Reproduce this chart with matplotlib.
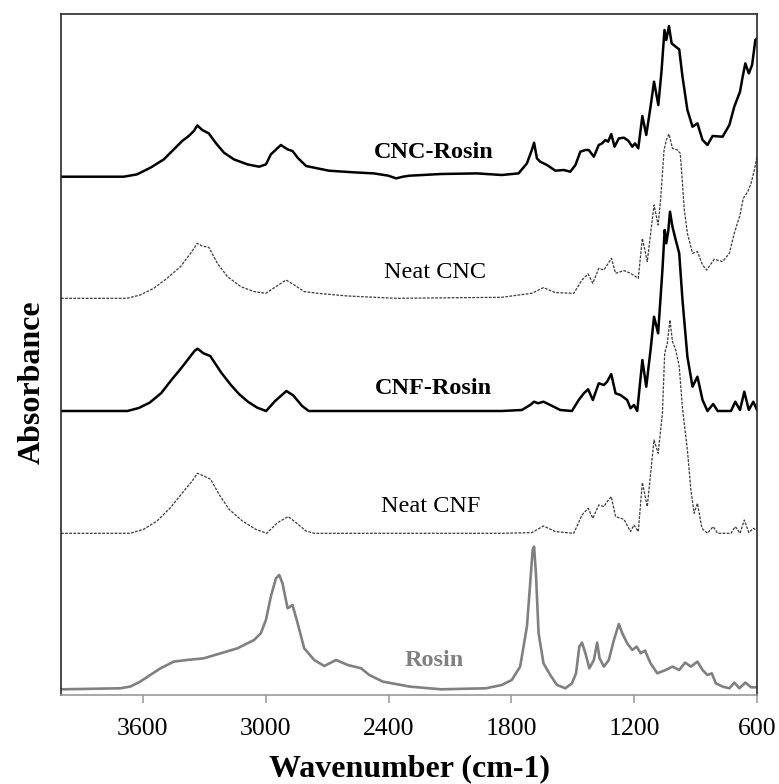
import matplotlib
matplotlib.use("Agg")
import matplotlib.pyplot as plt
import numpy as np

plt.rcParams['font.family'] = ['Liberation Serif', 'DejaVu Serif']

# ---- data (wavenumber cm-1, absorbance a.u., baseline-subtracted) ----
cnc_rosin_wn = [4000, 3694, 3629, 3563, 3498, 3449, 3408, 3376, 3351, 3334, 3310, 3278, 3245, 3204, 3155, 3089,
                3032, 2999, 2975, 2926, 2893, 2869, 2844, 2803, 2746, 2691, 2580, 2472, 2400, 2363, 2330, 2297,
                2143, 1968, 1847, 1765, 1724, 1700, 1689, 1675, 1659, 1626, 1585, 1544, 1512, 1487, 1463, 1438,
                1422, 1397, 1373, 1357, 1340, 1327, 1312, 1296, 1275, 1250, 1229, 1209, 1196, 1180, 1160, 1141,
                1120, 1103, 1082, 1066, 1052, 1043, 1030, 1017, 997, 980, 964, 940, 915, 891, 866, 842, 817, 768,
                735, 711, 683, 670, 657, 640, 624, 608, 600]
cnc_rosin_abs = [0, 0, 2.3, 9, 17.3, 27.3, 35.7, 40.7, 45.7, 51.3, 46.7, 43.3, 34, 24, 17.3, 12.3,
                 10, 12.3, 22.3, 31.7, 27.3, 25.7, 19, 10.7, 8.3, 6, 4.5, 3.3, 1, -1.7, 0, 1,
                 2.7, 3.3, 1.7, 3.3, 13.3, 26.7, 34, 18.3, 15, 11.7, 6, 6.7, 5, 11.7, 25, 26.7,
                 26.7, 20, 31.7, 33.3, 36.7, 35, 42.7, 30, 38.3, 39, 36, 30, 33.3, 28.3, 60.7, 41.7,
                 70, 95, 71.7, 106.7, 146.7, 136.7, 150.7, 133.3, 130, 127.3, 100, 66.7, 50, 53.3, 36.7, 31.7, 40.7, 40,
                 51.7, 70, 85, 100, 113.3, 103.3, 111.7, 136.7, 138.3]

neat_cnc_wn = [4000, 3678, 3613, 3547, 3482, 3416, 3367, 3334, 3310, 3278, 3236, 3187, 3122, 3057, 2999, 2950,
               2901, 2860, 2812, 2746, 2600, 2363, 1847, 1700, 1643, 1585, 1495, 1455, 1425, 1402, 1373, 1348,
               1332, 1311, 1291, 1250, 1218, 1180, 1160, 1136, 1103, 1083, 1071, 1054, 1043, 1030, 1013, 989,
               975, 964, 956, 940, 915, 891, 866, 846, 809, 768, 735, 711, 683, 667, 645, 629, 613, 600]
neat_cnc_abs = [0, 0, 3.3, 10, 20, 31.7, 45, 55, 52.3, 51, 35, 21.7, 11.7, 6.7, 5, 11.7,
                18.3, 13.3, 6.7, 5, 2.3, 0, 1, 5, 10.7, 5.7, 5, 18.3, 24.3, 15, 30, 28.3,
                33.3, 40, 25, 27.7, 25, 20, 60, 36.7, 93.3, 73.3, 98.3, 148.3, 158.3, 164.3, 150, 148.3,
                145, 115, 90, 65, 45, 46.7, 33.3, 28.3, 39, 36.7, 45, 65, 83.3, 100, 106.7, 115, 128.3, 141.7]

cnf_rosin_wn = [4000, 3676, 3620, 3567, 3510, 3458, 3420, 3392, 3348, 3333, 3304, 3271, 3217, 3170, 3129, 3085,
                3041, 2998, 2954, 2899, 2866, 2822, 2790, 1847, 1749, 1708, 1689, 1670, 1643, 1610, 1561, 1504,
                1471, 1446, 1425, 1402, 1373, 1348, 1332, 1312, 1291, 1267, 1234, 1218, 1201, 1185, 1160, 1141,
                1120, 1103, 1083, 1062, 1051, 1043, 1033, 1025, 1013, 997, 980, 964, 940, 915, 891, 866, 842,
                814, 792, 727, 706, 683, 662, 640, 618, 600]
cnf_rosin_abs = [0, 0, 3, 8.3, 18, 31.7, 41, 48.3, 60, 62.3, 57.7, 55, 38.3, 26, 16.7, 9,
                 3.3, 0, 10, 20, 15.7, 5, 0, 0, 1, 6, 9.3, 7.7, 9.3, 6, 1, 0,
                 11, 17.7, 21.7, 11, 27.7, 26, 29.3, 37, 17.7, 16, 11, 2.7, 6, 0, 51, 24.3,
                 61, 94.3, 77.7, 141, 181, 167.7, 181, 199.3, 184.3, 171, 157.7, 111, 54.3, 24.3, 34.3, 11, 0,
                 7, 0, 0, 9.3, 1, 19.3, 1, 9.3, 1]

neat_cnf_wn = [4000, 3662, 3596, 3531, 3465, 3400, 3359, 3334, 3302, 3269, 3228, 3179, 3114, 3049, 2995, 2942,
               2890, 2852, 2803, 2763, 1847, 1700, 1643, 1585, 1495, 1455, 1425, 1402, 1373, 1348, 1332, 1312,
               1291, 1250, 1218, 1201, 1180, 1160, 1136, 1103, 1083, 1062, 1051, 1038, 1025, 1013, 997, 980,
               964, 940, 923, 907, 891, 869, 842, 814, 792, 727, 706, 683, 662, 640, 618, 600]
neat_cnf_abs = [0, 0, 4, 12.3, 25.7, 42.3, 52.3, 60, 57.3, 54, 39, 24, 12.3, 4, 0, 10.7,
                16.7, 10.7, 2.3, 0, 0, 0.7, 7.3, 1.7, 0, 18.3, 25, 15, 28.3, 26.7, 31.7, 36.7,
                16.7, 14, 1.7, 8.3, 1.7, 50.7, 26.7, 93.3, 80, 120, 180, 190, 213.3, 191.7, 183.3, 166.7,
                125, 83.3, 43.3, 20, 30, 5, 0, 6.7, 0, 0, 6.7, 0, 13.3, 0.7, 5, 2.7]

rosin_wn = [4000, 3711, 3662, 3613, 3564, 3514, 3449, 3384, 3302, 3220, 3138, 3089, 3057, 3024, 2999, 2975,
            2950, 2934, 2918, 2893, 2869, 2844, 2812, 2763, 2714, 2656, 2599, 2534, 2494, 2428, 2297, 2143,
            1924, 1847, 1798, 1757, 1724, 1708, 1696, 1689, 1680, 1667, 1643, 1610, 1577, 1536, 1504, 1484,
            1468, 1455, 1438, 1419, 1397, 1381, 1369, 1348, 1324, 1299, 1275, 1258, 1234, 1209, 1188, 1168,
            1147, 1120, 1087, 1046, 1013, 980, 951, 923, 891, 866, 842, 821, 801, 768, 735, 711, 686, 657,
            629, 600]
rosin_abs = [-1, 0, 1.7, 6.7, 13.3, 20, 26.7, 28.3, 30, 35, 40, 45, 48.3, 55, 68.3, 91.7,
             110, 113.3, 105, 80, 83.3, 65, 40, 28.3, 22.3, 28.3, 23.3, 20, 13.3, 6.7, 1.7, -1,
             0, 3.3, 8.3, 21.7, 61.7, 105, 138.3, 141.7, 115, 55, 25, 13.3, 3.3, 0, 5, 15,
             41.7, 45.7, 35, 20, 28.3, 45.7, 30, 21.7, 28.3, 48.3, 64.3, 55, 45, 38.3, 41.7, 35,
             37.7, 25, 15, 18.3, 21.7, 18.3, 25.7, 21.7, 26.7, 18.3, 13.3, 15, 5, 1.7, 0, 5.7, 0, 5.7,
             1, 1]

labels = ["CNC-Rosin", "Neat CNC", "CNF-Rosin", "Neat CNF", "Rosin"]
x_ticks = [3600, 3000, 2400, 1800, 1200, 600]

# ---- layout / style ----
offsets = [518.3, 396.7, 284.0, 161.7, 6.7]
series = [(cnc_rosin_wn, cnc_rosin_abs), (neat_cnc_wn, neat_cnc_abs),
          (cnf_rosin_wn, cnf_rosin_abs), (neat_cnf_wn, neat_cnf_abs),
          (rosin_wn, rosin_abs)]
styles = [dict(color='black', lw=1.8, ls='-'),
          dict(color='#3a3a3a', lw=0.9, ls=(0, (2.2, 1.1))),
          dict(color='black', lw=1.8, ls='-'),
          dict(color='#3a3a3a', lw=0.9, ls=(0, (2.2, 1.1))),
          dict(color='#808080', lw=1.9, ls='-')]
label_pos = [(2178, 543), (2173, 423), (2183, 307), (2193, 188), (2178, 35)]
label_style = [dict(weight='bold', color='black'), dict(weight='normal', color='black'),
               dict(weight='bold', color='black'), dict(weight='normal', color='black'),
               dict(weight='bold', color='#808080')]

fig = plt.figure(figsize=(7.79, 7.84), dpi=100)
ax = fig.add_axes([61/779, 89/784, 696/779, 681/784])

for (wn, ab), off, st in zip(series, offsets, styles):
    ax.plot(wn, np.array(ab) + off, solid_joinstyle='round', solid_capstyle='round', **st)

for lab, (lx, ly), ls in zip(labels, label_pos, label_style):
    ax.text(lx, ly, lab, ha='center', va='center', fontsize=17.5, **ls)

ax.set_xlim(4000, 600)
ax.set_ylim(0, 681)
ax.set_xticks(x_ticks)
ax.set_xticklabels([str(t) for t in x_ticks], fontsize=18.5)
ax.set_yticks([])
ax.tick_params(axis='x', direction='out', length=5.8, width=1.2, color='#a0a0a0', pad=11)
for name, s in ax.spines.items():
    s.set_linewidth(1.2)
    s.set_color('#2a2a2a')
ax.spines['bottom'].set_color('#9a9a9a')
ax.set_xlabel('Wavenumber (cm-1)', fontsize=23, fontweight='bold')
ax.set_ylabel('Absorbance', fontsize=23, fontweight='bold')
ax.xaxis.set_label_coords(0.5, -0.087)
ax.yaxis.set_label_coords(-0.021, 0.46)

fig.savefig('out.png', dpi=100)
